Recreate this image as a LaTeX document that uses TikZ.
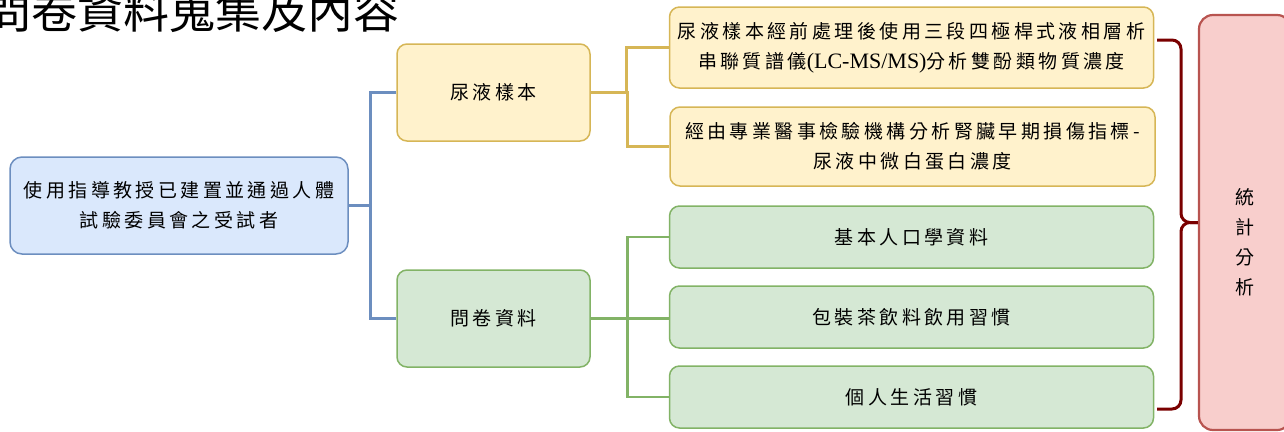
\documentclass[tikz,border=0pt]{standalone}
\usepackage{fontspec}
\usepackage{xcolor}
\usepackage{tikz}
\usetikzlibrary{positioning}
\newfontfamily\cjk{Noto Sans CJK TC}[LetterSpace=18]
\newfontfamily\cjktitle{Noto Sans CJK TC}
\newfontfamily\latserif{Liberation Serif}
\definecolor{SubjFill}{HTML}{DAE8FC}
\definecolor{SubjLine}{HTML}{6C8EBF}
\definecolor{UrineFill}{HTML}{FFF2CC}
\definecolor{UrineLine}{HTML}{D6B656}
\definecolor{QuestFill}{HTML}{D5E8D4}
\definecolor{QuestLine}{HTML}{82B366}
\definecolor{StatFill}{HTML}{F8CECC}
\definecolor{StatLine}{HTML}{B85450}
\definecolor{BraceRed}{HTML}{7A0000}

\begin{document}
\begin{tikzpicture}[
      x=1pt, y=-1pt,
      every node/.style={align=center, font=\cjk\fontsize{19}{30}\selectfont},
      subj/.style={draw=SubjLine, fill=SubjFill, line width=1.5pt, rounded corners=12pt, minimum width=338pt, minimum height=97pt},
      urine/.style={draw=UrineLine, fill=UrineFill, line width=1.5pt, rounded corners=10pt, minimum height=97pt, minimum width=193pt},
      quest/.style={draw=QuestLine, fill=QuestFill, line width=1.5pt, rounded corners=10pt, minimum height=97pt, minimum width=193pt},
      item/.style={line width=1.5pt, rounded corners=10pt, minimum width=484pt},
      stat/.style={draw=StatLine, fill=StatFill, line width=2.2pt, rounded corners=14pt, minimum width=92pt, minimum height=415pt},
      bline/.style={SubjLine, line width=3pt},
      yline/.style={UrineLine, line width=3pt},
      gline/.style={QuestLine, line width=2.6pt},
      brace/.style={BraceRed, line width=3pt, rounded corners=9pt}
    ]
      \useasboundingbox (0,0) rectangle (1284,431);
      % Title (cut at the top of the page)
      \node[anchor=base west, font=\cjktitle\fontsize{46}{46}\selectfont, inner sep=0pt] (title) at (-15,28) {問卷資料蒐集及內容};
      \node[subj] (subj) at (179,205.5) {使用指導教授已建置並通過人體\\試驗委員會之受試者};
      \node[urine] (urine) at (493.5,92.5) {尿液樣本};
      \node[quest] (quest) at (493.5,318.5) {問卷資料};
      \node[item, urine, minimum width=484pt, minimum height=81pt] (lcms) at (911.5,47.5)
        {尿液樣本經前處理後使用三段四極桿式液相層析\\串聯質譜儀{\latserif\fontsize{22}{30}\selectfont(LC-MS/MS)}分析雙酚類物質濃度};
      \node[item, urine, minimum width=485pt, minimum height=79pt] (renal) at (912.5,146.5)
        {經由專業醫事檢驗機構分析腎臟早期損傷指標-\\尿液中微白蛋白濃度};
      \node[item, quest, minimum width=484pt, minimum height=62pt] (demo) at (911.5,237) {基本人口學資料};
      \node[item, quest, minimum width=484pt, minimum height=62pt] (tea) at (911.5,317) {包裝茶飲料飲用習慣};
      \node[item, quest, minimum width=484pt, minimum height=62pt] (life) at (911.5,397) {個人生活習慣};
      \node[stat] (stat) at (1245,222.5) {};
      \node (stattext) at (1245,242) {統\\計\\分\\析};
      % Tree branches
      \draw[bline] (urine.west) -- ++(-26,0) |- (subj.east);
      \draw[bline] (quest.west) -- ++(-26,0) |- (subj.east);
      \draw[yline] (lcms.west) -- ++(-42,0) |- (urine.east);
      \draw[yline] (renal.west) -- ++(-42,0) |- (urine.east);
      \draw[gline] (demo.west) -- ++(-41,0) |- (quest.east);
      \draw[gline] (life.west) -- ++(-41,0) |- (quest.east);
      \draw[gline] (quest.east) -- (quest.east -| tea.west);
      % Brace towards statistics
      \coordinate (btop) at (1157,40);
      \coordinate (bbot) at (1157,409);
      \draw[brace] (btop) -- (1181,40) -- (1181,222.5) -- (stat.west);
      \draw[brace] (bbot) -- (1181,409) -- (1181,222.5) -- (stat.west);
\end{tikzpicture}
\end{document}
